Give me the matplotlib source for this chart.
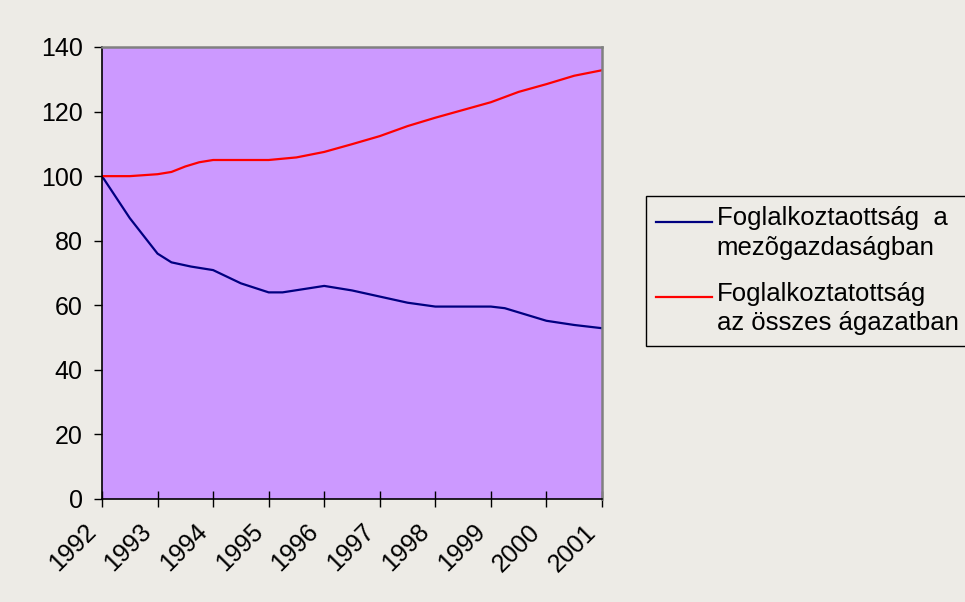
import matplotlib
matplotlib.use('Agg')
import numpy as np
import matplotlib.pyplot as plt
from matplotlib.legend_handler import HandlerLine2D
from matplotlib.transforms import ScaledTranslation

# values (fractional years, index 1992 = 100)
years = list(range(1992, 2002))

agri_x = [1992.0, 1992.5, 1993.0, 1993.25, 1993.6, 1994.0, 1994.5, 1995.0, 1995.25,
          1996.0, 1996.5, 1997.5, 1998.0, 1999.0, 1999.25, 2000.0, 2000.5, 2001.0]
agri_y = [100, 87, 76, 73.3, 72, 70.9, 66.8, 64, 64,
          66, 64.6, 60.8, 59.6, 59.6, 59.1, 55.2, 53.9, 52.9]

total_x = [1992.0, 1992.5, 1993.0, 1993.25, 1993.5, 1993.75, 1994.0, 1995.0, 1995.5,
           1996.0, 1996.5, 1997.0, 1997.5, 1998.0, 1999.0, 1999.5, 2000.0, 2000.5, 2001.0]
total_y = [100, 100, 100.6, 101.3, 103, 104.3, 105, 105, 105.8,
           107.5, 109.9, 112.4, 115.5, 118.1, 122.9, 126.1, 128.5, 131.1, 132.8]

labels = ['Foglalkoztaottság  a\nmezõgazdaságban',
          'Foglalkoztatottság\naz összes ágazatban']

plt.rcParams['font.family'] = ['Liberation Sans', 'DejaVu Sans']


class FirstLineHandler(HandlerLine2D):
    # put the legend line next to the first line of a two-line label
    def create_artists(self, legend, orig_handle, xdescent, ydescent,
                       width, height, fontsize, trans):
        arts = super().create_artists(legend, orig_handle, xdescent, ydescent,
                                      width, height, fontsize, trans)
        for a in arts:
            a.set_ydata(np.asarray(a.get_ydata()) + 0.45 * fontsize)
        return arts


bg = '#EDEBE6'
fig = plt.figure(figsize=(9.65, 6.02), dpi=100, facecolor=bg)
ax = fig.add_axes([102 / 965, 1 - 499 / 602, 500 / 965, 452 / 602])
ax.set_facecolor('#CC99FF')

l1, = ax.plot(agri_x, agri_y, color='#000080', linewidth=1.6, label=labels[0])
l2, = ax.plot(total_x, total_y, color='#FF0000', linewidth=1.6, label=labels[1])

ax.set_xlim(1992, 2001)
ax.set_ylim(0, 140)
ax.set_yticks(range(0, 141, 20))
ax.set_xticks(years)
ax.set_xticklabels([str(y) for y in years], rotation=45, ha='right', va='center',
                   rotation_mode='anchor')
ax.tick_params(axis='y', direction='out', length=6, width=1, labelsize=18, pad=8)
ax.tick_params(axis='x', direction='inout', length=12, width=1, labelsize=18, pad=15)
shift = ScaledTranslation(-7 / 72, 0, fig.dpi_scale_trans)
for lab in ax.get_xticklabels():
    lab.set_transform(lab.get_transform() + shift)

for side in ['left', 'bottom']:
    ax.spines[side].set_color('black')
    ax.spines[side].set_linewidth(1.2)
for side in ['top', 'right']:
    ax.spines[side].set_color('#808080')
    ax.spines[side].set_linewidth(1.8)

leg = ax.legend(loc='upper left', bbox_to_anchor=(646 / 965, 1 - 196 / 602),
                bbox_transform=fig.transFigure, borderaxespad=0, fontsize=18.5,
                frameon=True, fancybox=False, edgecolor='black', facecolor=bg,
                framealpha=1, handlelength=2.15, handletextpad=0.2, borderpad=0.4,
                labelspacing=0.84,
                handler_map={l1: FirstLineHandler(), l2: FirstLineHandler()})
leg.get_frame().set_linewidth(1.0)
for t in leg.get_texts():
    t.set_linespacing(1.3)

plt.savefig('out.png', dpi=100, facecolor=bg)
